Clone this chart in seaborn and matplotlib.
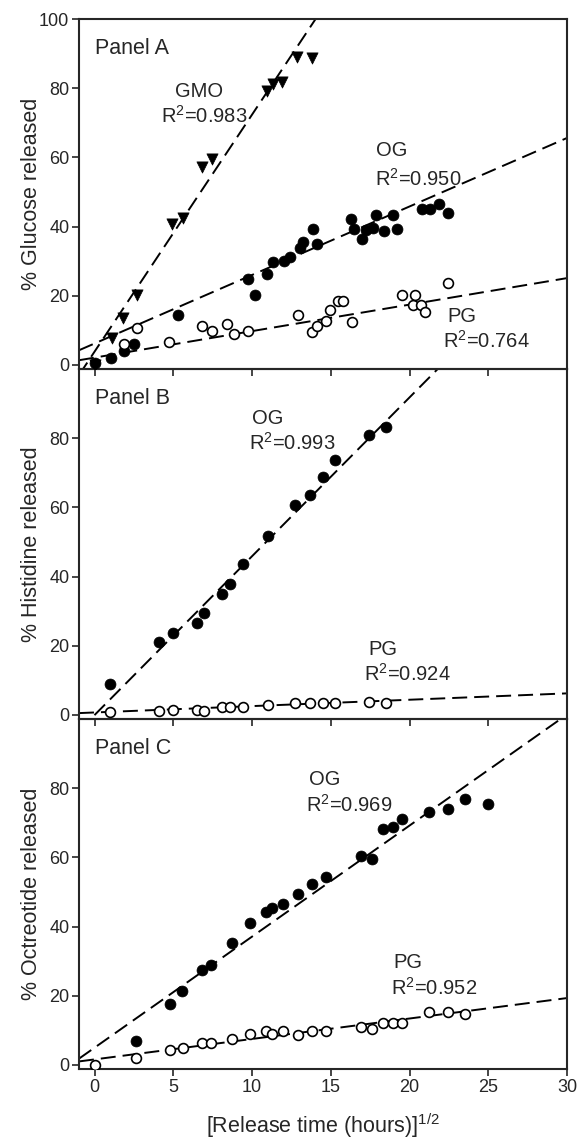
import numpy as np
import pandas as pd
import matplotlib
matplotlib.use('Agg')
import matplotlib.pyplot as plt
import seaborn as sns

# ---- Panel A: glucose ----
a_gmo_x = [0.0, 1.1, 1.78, 2.70, 4.88, 5.63, 6.83, 7.46, 10.92, 11.34, 11.92, 12.86, 13.80]
a_gmo_y = [0.0, 7.7, 13.6, 20.3, 40.7, 42.6, 57.1, 59.5, 79.1, 81.2, 81.7, 88.9, 88.7]
a_og_x = [0.0, 1.06, 1.86, 2.5, 5.28, 9.74, 10.16, 10.92, 11.34, 12.04, 12.39, 13.03, 13.26,
          13.87, 14.11, 16.27, 16.50, 16.97, 17.25, 17.68, 17.86, 18.38, 18.97, 19.20,
          20.77, 21.31, 21.9, 22.44]
a_og_y = [0.4, 1.9, 4.1, 6.1, 14.5, 24.8, 20.3, 26.3, 29.6, 30.1, 31.1, 33.7, 35.6,
          39.2, 34.8, 42.1, 39.4, 36.4, 38.9, 39.7, 43.4, 38.7, 43.4, 39.4,
          45.0, 45.0, 46.4, 44.0]
a_pg_x = [1.83, 2.70, 4.72, 6.83, 7.46, 8.40, 8.87, 9.74, 12.93, 13.80, 14.15, 14.67, 14.93,
          15.45, 15.75, 16.34, 19.55, 20.21, 20.33, 20.73, 20.96, 22.44]
a_pg_y = [5.9, 10.7, 6.7, 11.2, 9.8, 11.9, 8.8, 9.8, 14.5, 9.6, 11.2, 12.8, 16.0,
          18.4, 18.4, 12.3, 20.3, 17.4, 20.3, 17.2, 15.3, 23.8]
# slope, intercept of the fitted lines
a_gmo_fit = [6.85, 3.9]
a_og_fit = [1.98, 6.2]
a_pg_fit = [0.766, 2.1]

# ---- Panel B: histidine ----
b_x = [0.99, 4.11, 4.98, 6.50, 6.92, 8.10, 8.62, 9.44, 11.01, 12.72, 13.66, 14.48, 15.26, 17.45, 18.52]
b_og_y = [9.0, 21.0, 23.8, 26.7, 29.5, 35.0, 37.9, 43.6, 51.6, 60.8, 63.6, 68.8, 73.8, 81.0, 83.1]
b_pg_y = [0.7, 1.2, 1.4, 1.4, 1.1, 2.2, 2.2, 2.4, 2.9, 3.3, 3.3, 3.5, 3.3, 3.8, 3.5]
b_og_fit = [4.59, 0.0]
b_pg_fit = [0.184, 0.69]

# ---- Panel C: octreotide ----
c_og_x = [2.63, 4.79, 5.52, 6.81, 7.40, 8.74, 9.84, 10.85, 11.28, 11.96, 12.92, 13.79, 14.66,
          16.91, 17.62, 18.30, 18.96, 19.54, 21.26, 22.41, 23.49, 24.95]
c_og_y = [6.9, 17.6, 21.4, 27.3, 28.8, 35.2, 41.0, 44.3, 45.4, 46.4, 49.3, 52.2, 54.3,
          60.5, 59.5, 68.3, 68.8, 71.2, 73.0, 74.1, 76.9, 75.5]
c_pg_x = [0.0, 2.63, 4.79, 5.61, 6.81, 7.40, 8.74, 9.84, 10.85, 11.28, 11.96, 12.92, 13.79,
          14.66, 16.91, 17.62, 18.30, 18.96, 19.54, 21.26, 22.41, 23.49]
c_pg_y = [0.0, 2.1, 4.3, 5.0, 6.2, 6.2, 7.4, 8.8, 9.8, 9.0, 9.7, 8.6, 9.8,
          9.8, 11.0, 10.5, 12.2, 12.2, 12.2, 15.4, 15.4, 14.6]
c_og_fit = [3.21, 5.0]
c_pg_fit = [0.591, 1.58]

x_ticks = [0, 5, 10, 15, 20, 25, 30]

sns.set_theme(style='ticks')
plt.rcParams['font.family'] = ['Liberation Sans', 'DejaVu Sans']
plt.rcParams['mathtext.default'] = 'regular'

STYLES = {
    'GMO': dict(marker='v', color='black', edgecolor='black', linewidth=0.5, s=65),
    'OG': dict(marker='o', color='black', edgecolor='black', linewidth=0.5, s=62),
    'PG': dict(marker='o', color='white', edgecolor='black', linewidth=1.2, s=50),
}


def draw_panel(ax, series, fits, notes, panel_name, ylabel, yticks):
    xs = np.array([-1.0, 30.0])
    for slope, intercept in fits:
        ax.plot(xs, intercept + slope * xs, color='black', lw=1.4,
                dashes=(7.7, 3.6), zorder=2)
    for name, x, y in series:
        df = pd.DataFrame({'x': x, 'y': y})
        sns.scatterplot(data=df, x='x', y='y', ax=ax, zorder=3, legend=False,
                        **STYLES[name])
    for tx, ty, txt, ha in notes:
        ax.text(tx, ty, txt, ha=ha, va='center', fontsize=14.5)
    ax.text(0.0, 91.5, panel_name, ha='left', va='center', fontsize=15.5)
    ax.set_xlim(-1, 30)
    ax.set_ylim(-1.2, 100)
    ax.set_xticks(x_ticks)
    ax.set_yticks(yticks)
    ax.set_ylabel(ylabel, fontsize=15.5)
    ax.yaxis.set_label_coords(-0.076, 0.5)
    ax.set_xlabel('')
    ax.tick_params(direction='out', length=5, width=1.2, labelsize=13, pad=2)
    for sp in ax.spines.values():
        sp.set_visible(True)
        sp.set_linewidth(1.5)
    ax.patch.set_alpha(0)


fig = plt.figure(figsize=(5.8, 11.39), dpi=100)
h = 350 / 1139
left = 79 / 580
width = 488 / 580
bottom_c = 1 - 1069 / 1139
ax_c = fig.add_axes([left, bottom_c, width, h])
ax_b = fig.add_axes([left, bottom_c + h, width, h])
ax_a = fig.add_axes([left, bottom_c + 2 * h, width, h])

draw_panel(ax_a,
           [('GMO', a_gmo_x, a_gmo_y), ('OG', a_og_x, a_og_y), ('PG', a_pg_x, a_pg_y)],
           [a_gmo_fit, a_og_fit, a_pg_fit],
           [(6.64, 79.1, 'GMO', 'center'), (4.18, 72.0, 'R$^2$=0.983', 'left'),
            (18.85, 61.9, 'OG', 'center'), (17.8, 53.8, 'R$^2$=0.950', 'left'),
            (23.3, 14.1, 'PG', 'center'), (22.14, 6.9, 'R$^2$=0.764', 'left')],
           'Panel A', '% Glucose released', [0, 20, 40, 60, 80, 100])

draw_panel(ax_b,
           [('OG', b_x, b_og_y), ('PG', b_x, b_pg_y)],
           [b_og_fit, b_pg_fit],
           [(11.0, 85.7, 'OG', 'center'), (9.79, 78.6, 'R$^2$=0.993', 'left'),
            (18.3, 19.0, 'PG', 'center'), (17.1, 11.9, 'R$^2$=0.924', 'left')],
           'Panel B', '% Histidine released', [0, 20, 40, 60, 80])

draw_panel(ax_c,
           [('OG', c_og_x, c_og_y), ('PG', c_pg_x, c_pg_y)],
           [c_og_fit, c_pg_fit],
           [(14.6, 82.4, 'OG', 'center'), (13.4, 75.2, 'R$^2$=0.969', 'left'),
            (19.9, 29.5, 'PG', 'center'), (18.8, 22.4, 'R$^2$=0.952', 'left')],
           'Panel C', '% Octreotide released', [0, 20, 40, 60, 80])

ax_a.tick_params(labelbottom=False)
ax_b.tick_params(labelbottom=False)
ax_c.set_xlabel('[Release time (hours)]$^{1/2}$', fontsize=15.5, labelpad=11)

fig.savefig('out.png', dpi=100)
